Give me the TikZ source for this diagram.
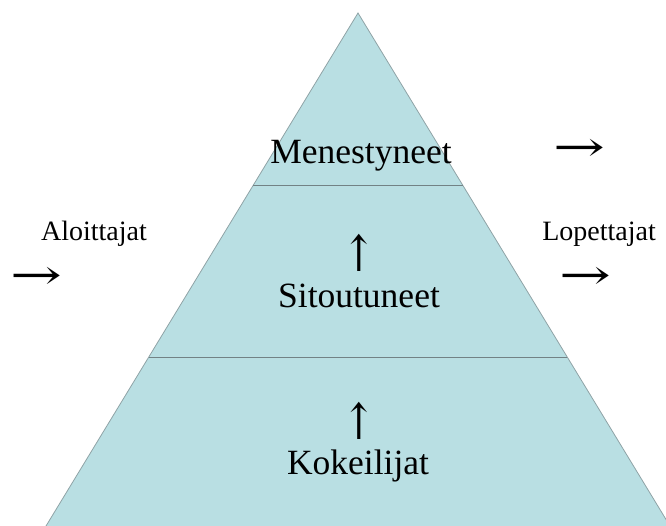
\documentclass[tikz,border=0pt]{standalone}
\usepackage{fontspec}
\usepackage{graphicx}
\setmainfont{Liberation Serif}
\newfontfamily\arrowfont{DejaVu Serif}
\definecolor{pyrfill}{HTML}{B9DFE3}
\definecolor{pyredge}{HTML}{8FA3A6}
\newcommand{\harrow}{\scalebox{1.55}[1.05]{\arrowfont →}}
\newcommand{\varrow}{\scalebox{1.0}[1.25]{\arrowfont ↑}}
\begin{document}
\begin{tikzpicture}[x=1pt,y=-1pt,
  big/.style={font=\fontsize{35.5}{40}\selectfont, inner sep=0pt, anchor=base},
  small/.style={font=\fontsize{28}{32}\selectfont, inner sep=0pt, anchor=base},
  arr/.style={font=\fontsize{40}{44}\selectfont, inner sep=0pt}]
\useasboundingbox (0,0) rectangle (666,526);
\begin{scope}
\clip (0,0) rectangle (666,526);
\coordinate (apex) at (358,13);
\coordinate (bl) at (46,526);
\coordinate (br) at (670,526);
\fill[pyrfill] (apex) -- (bl) -- (br) -- cycle;
\draw[pyredge, line width=0.8pt] (bl) -- (apex) -- (br);
\coordinate (l1) at (253.4,185);
\coordinate (r1) at (462.6,185);
\coordinate (l2) at (149,357);
\coordinate (r2) at (567,357);
\draw[pyredge!80!black, line width=0.8pt] (l1) -- (r1);
\draw[pyredge!80!black, line width=0.8pt] (l2) -- (r2);
\end{scope}
\node[big] (men) at (361,164) {Menestyneet};
\node[big] (sit) at (359,308) {Sitoutuneet};
\node[big] (kok) at (358,474) {Kokeilijat};
\node[arr] (up1) at (359,253) {\varrow};
\node[arr] (up2) at (359,420.5) {\varrow};
\node[small] (alo) at (94,241) {Aloittajat};
\node[small] (lop) at (599,241) {Lopettajat};
\node[arr] (la) at (36,278) {\harrow};
\node[arr] (ra1) at (579,150) {\harrow};
\node[arr] (ra2) at (585,278) {\harrow};
\end{tikzpicture}
\end{document}
